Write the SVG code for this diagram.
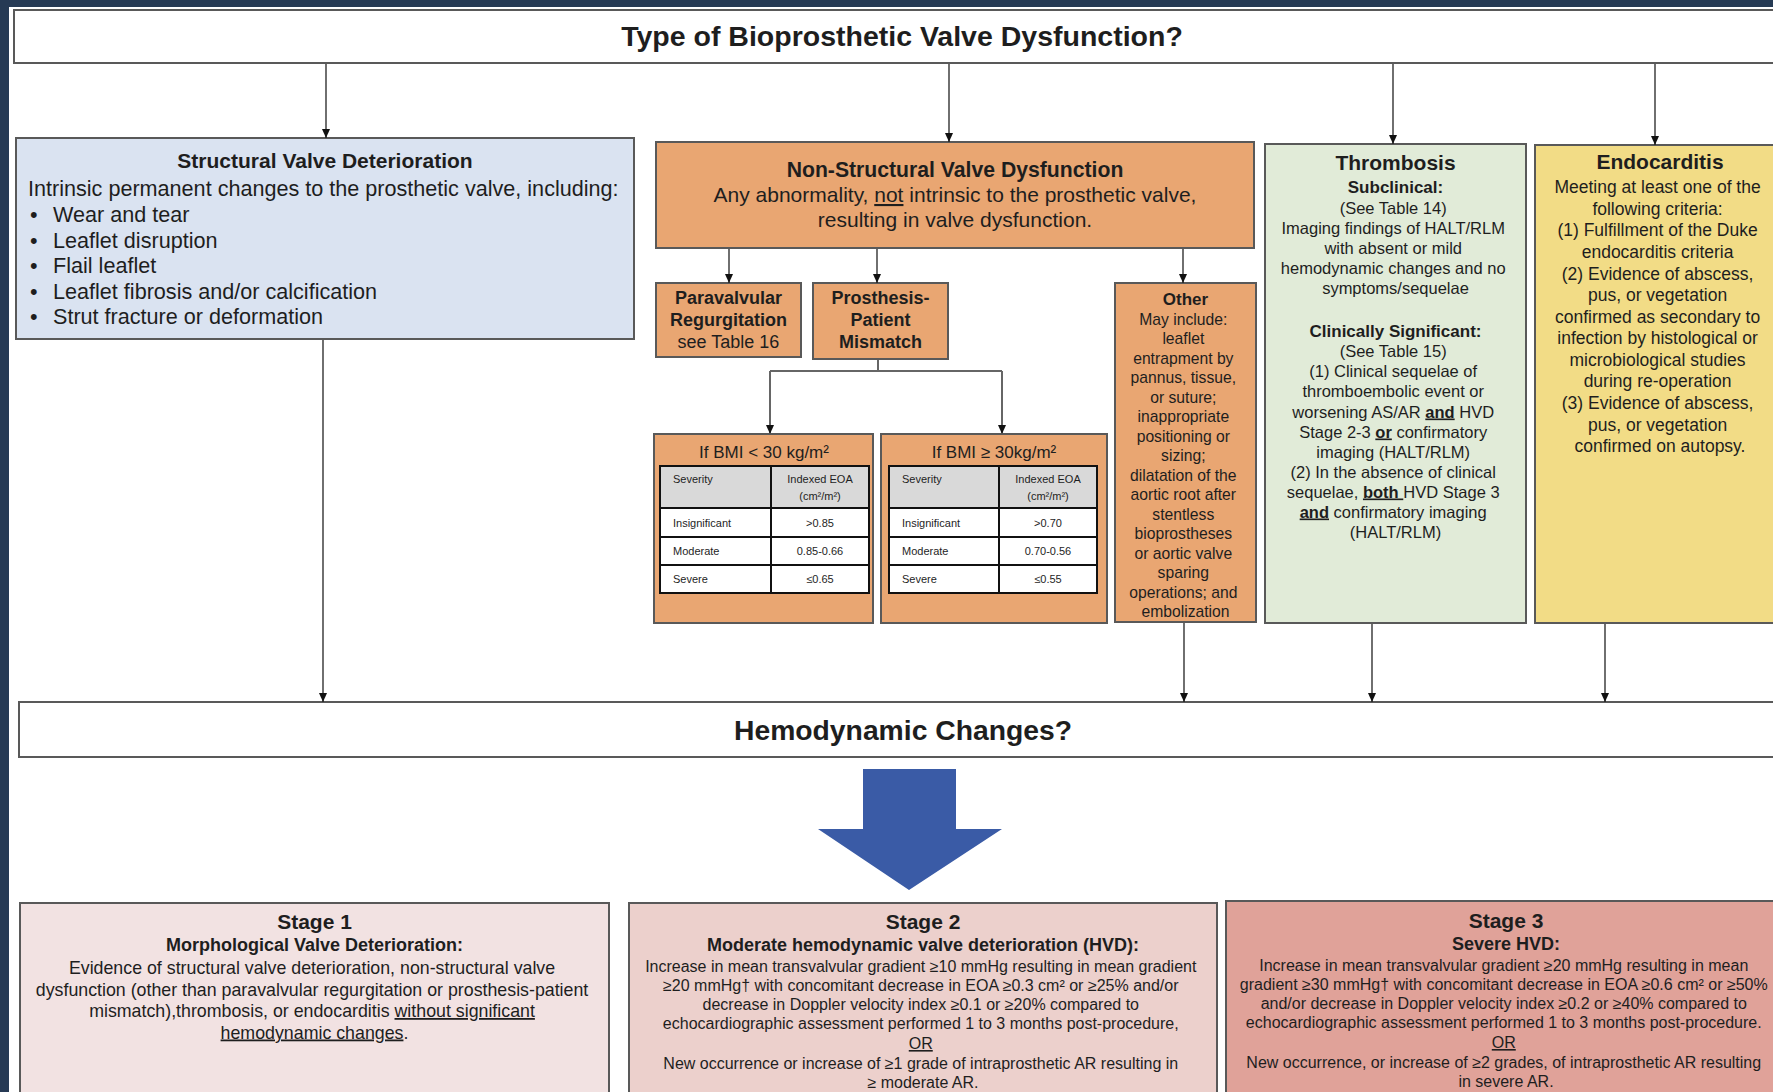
<svg xmlns="http://www.w3.org/2000/svg" width="1773" height="1092" viewBox="0 0 1773 1092">
<defs>
<style>
text{font-family:"Liberation Sans",Arial,Helvetica,sans-serif;fill:#1e1e1e}
.b{font-weight:bold}
.m{text-anchor:middle}
.u{text-decoration:underline}
.box{stroke:#595959;stroke-width:2}
.conn line,.conn path{stroke:#222;stroke-width:1.3;fill:none}
.conn .g{stroke:#666;stroke-width:2}
.org{fill:#e9a672}
.tb{fill:#fff;stroke:#111;stroke-width:2}
.th{fill:#d9d9d9;stroke:#111;stroke-width:2}
.t11{font-size:11px}
</style>
<marker id="ah" markerWidth="10" markerHeight="10" refX="9" refY="5" orient="auto" markerUnits="userSpaceOnUse"><path d="M0,1 L9,5 L0,9 z" fill="#111"/></marker>
</defs>
<rect x="0" y="0" width="1773" height="1092" fill="#263a54"/>
<rect x="9" y="7" width="1764" height="1085" fill="#ffffff"/>

<g id="top">
<rect class="box" x="14" y="10" width="1780" height="53" fill="#fff"/>
<text class="b m" x="902" y="46" font-size="28.5">Type of Bioprosthetic  Valve Dysfunction?</text>
</g>

<g id="svd">
<rect class="box" x="16" y="138" width="618" height="201" fill="#dae3f1"/>
<text class="b m" x="325" y="168" font-size="21">Structural Valve Deterioration</text>
<text x="28" y="196" font-size="21.6">Intrinsic permanent changes to the prosthetic valve,  including:</text>
<g font-size="21.6">
<text x="30" y="222">•</text><text x="53" y="222">Wear and tear</text>
<text x="30" y="247.5">•</text><text x="53" y="247.5">Leaflet disruption</text>
<text x="30" y="273">•</text><text x="53" y="273">Flail leaflet</text>
<text x="30" y="298.5">•</text><text x="53" y="298.5">Leaflet fibrosis and/or calcification</text>
<text x="30" y="324">•</text><text x="53" y="324">Strut fracture or deformation</text>
</g>
</g>

<g id="nsvd">
<rect class="box org" x="656" y="142" width="598" height="106"/>
<text class="b m" x="955" y="177" font-size="21.2">Non-Structural Valve Dysfunction</text>
<text class="m" x="955" y="202" font-size="21">Any abnormality, <tspan class="u">not</tspan> intrinsic to the prosthetic valve,</text>
<text class="m" x="955" y="227" font-size="21">resulting in valve dysfunction.</text>
</g>

<g id="pvr">
<rect class="box org" x="656" y="283" width="145" height="74"/>
<text class="m" x="728.5" font-size="18"><tspan class="b" x="728.5" y="304">Paravalvular</tspan><tspan class="b" x="728.5" y="326">Regurgitation</tspan><tspan x="728.5" y="348">see Table 16</tspan></text>
</g>

<g id="ppm">
<rect class="box org" x="813" y="283" width="135" height="76"/>
<text class="b m" x="880.5" font-size="18"><tspan x="880.5" y="304">Prosthesis-</tspan><tspan x="880.5" y="326">Patient</tspan><tspan x="880.5" y="348">Mismatch</tspan></text>
</g>

<g id="other">
<rect class="box org" x="1115" y="283" width="141" height="339"/>
<text class="b m" x="1185.5" y="305" font-size="17">Other</text>
<text class="m" font-size="15.7">
<tspan x="1185.5" y="324.5">May include:</tspan>
<tspan x="1185.5" y="344">leaflet</tspan>
<tspan x="1185.5" y="363.5">entrapment by</tspan>
<tspan x="1185.5" y="383">pannus, tissue,</tspan>
<tspan x="1185.5" y="402.5">or suture;</tspan>
<tspan x="1185.5" y="422">inappropriate</tspan>
<tspan x="1185.5" y="441.5">positioning or</tspan>
<tspan x="1185.5" y="461">sizing;</tspan>
<tspan x="1185.5" y="480.5">dilatation of the</tspan>
<tspan x="1185.5" y="500">aortic root after</tspan>
<tspan x="1185.5" y="519.5">stentless</tspan>
<tspan x="1185.5" y="539">bioprostheses</tspan>
<tspan x="1185.5" y="558.5">or aortic valve</tspan>
<tspan x="1185.5" y="578">sparing</tspan>
<tspan x="1185.5" y="597.5">operations; and</tspan>
<tspan x="1185.5" y="617">embolization</tspan>
</text>
</g>

<g id="bmi-low">
<rect class="box org" x="654" y="434" width="219" height="189"/>
<text class="m" x="764" y="458" font-size="17">If BMI &lt; 30 kg/m²</text>
<rect class="th" x="660" y="466" width="209" height="42"/>
<rect class="tb" x="660" y="508" width="209" height="85"/>
<path d="M660,537 H869 M660,565 H869 M771,466 V593" stroke="#111" stroke-width="2"/>
<g class="t11">
<text x="673" y="483">Severity</text>
<text class="m" x="820" y="483">Indexed EOA</text>
<text class="m" x="820" y="500">(cm²/m²)</text>
<text x="673" y="527">Insignificant</text><text class="m" x="820" y="527">&gt;0.85</text>
<text x="673" y="555">Moderate</text><text class="m" x="820" y="555">0.85-0.66</text>
<text x="673" y="583">Severe</text><text class="m" x="820" y="583">≤0.65</text>
</g>
</g>

<g id="bmi-high">
<rect class="box org" x="881" y="434" width="226" height="189"/>
<text class="m" x="994" y="458" font-size="17">If BMI ≥ 30kg/m²</text>
<rect class="th" x="889" y="466" width="208" height="42"/>
<rect class="tb" x="889" y="508" width="208" height="85"/>
<path d="M889,537 H1097 M889,565 H1097 M999,466 V593" stroke="#111" stroke-width="2"/>
<g class="t11">
<text x="902" y="483">Severity</text>
<text class="m" x="1048" y="483">Indexed EOA</text>
<text class="m" x="1048" y="500">(cm²/m²)</text>
<text x="902" y="527">Insignificant</text><text class="m" x="1048" y="527">&gt;0.70</text>
<text x="902" y="555">Moderate</text><text class="m" x="1048" y="555">0.70-0.56</text>
<text x="902" y="583">Severe</text><text class="m" x="1048" y="583">≤0.55</text>
</g>
</g>

<g id="thrombosis">
<rect class="box" x="1265" y="144" width="261" height="479" fill="#e1ebd8" stroke="#808080"/>
<text class="b m" x="1395.5" y="170" font-size="21">Thrombosis</text>
<text class="b m" x="1395.5" y="193" font-size="17">Subclinical:</text>
<text class="m" font-size="16.5">
<tspan x="1395.5" y="214">(See Table 14)</tspan>
<tspan x="1395.5" y="234">Imaging findings of HALT/RLM</tspan>
<tspan x="1395.5" y="254">with absent or mild</tspan>
<tspan x="1395.5" y="274">hemodynamic changes and no</tspan>
<tspan x="1395.5" y="294">symptoms/sequelae</tspan>
</text>
<text class="b m" x="1395.5" y="337" font-size="17">Clinically  Significant:</text>
<text class="m" font-size="16.5">
<tspan x="1395.5" y="357">(See Table 15)</tspan>
<tspan x="1395.5" y="377">(1) Clinical  sequelae of</tspan>
<tspan x="1395.5" y="397">thromboembolic event or</tspan>
<tspan x="1395.5" y="417.5">worsening AS/AR <tspan class="b u">and</tspan> HVD</tspan>
<tspan x="1395.5" y="437.5">Stage 2-3 <tspan class="b u">or</tspan> confirmatory</tspan>
<tspan x="1395.5" y="457.5">imaging (HALT/RLM)</tspan>
<tspan x="1395.5" y="477.5">(2) In the absence of clinical</tspan>
<tspan x="1395.5" y="497.5">sequelae, <tspan class="b u">both </tspan>HVD Stage 3</tspan>
<tspan x="1395.5" y="517.5"><tspan class="b u">and</tspan> confirmatory imaging</tspan>
<tspan x="1395.5" y="537.5">(HALT/RLM)</tspan>
</text>
</g>

<g id="endocarditis">
<rect class="box" x="1535" y="145" width="260" height="478" fill="#f2dc86" stroke="#808080"/>
<text class="b m" x="1660" y="169" font-size="21">Endocarditis</text>
<text class="m" font-size="17.5">
<tspan x="1660" y="193">Meeting at least one of the</tspan>
<tspan x="1660" y="214.5">following criteria:</tspan>
<tspan x="1660" y="236">(1) Fulfillment  of the Duke</tspan>
<tspan x="1660" y="258">endocarditis criteria</tspan>
<tspan x="1660" y="279.5">(2) Evidence of abscess,</tspan>
<tspan x="1660" y="301">pus, or vegetation</tspan>
<tspan x="1660" y="322.5">confirmed as secondary to</tspan>
<tspan x="1660" y="344">infection by histological or</tspan>
<tspan x="1660" y="365.5">microbiological studies</tspan>
<tspan x="1660" y="387">during re-operation</tspan>
<tspan x="1660" y="409">(3) Evidence of abscess,</tspan>
<tspan x="1660" y="430.5">pus, or vegetation</tspan>
<tspan x="1660" y="452">confirmed on autopsy.</tspan>
</text>
</g>

<g id="hemodynamic">
<rect class="box" x="19" y="702" width="1780" height="55" fill="#fff"/>
<text class="b m" x="903" y="740" font-size="28.3">Hemodynamic Changes?</text>
</g>

<g id="big-arrow">
<polygon points="863,769 956,769 956,829 1002,829 909,890 818,829 863,829" fill="#3a5ba6"/>
</g>

<g id="stage1">
<rect class="box" x="20" y="903" width="589" height="200" fill="#f2e2e2" stroke="#8a8a8a"/>
<text class="b m" x="314.5" y="929" font-size="21">Stage 1</text>
<text class="b m" x="314.5" y="951" font-size="18">Morphological  Valve Deterioration:</text>
<text class="m" font-size="17.8">
<tspan x="314.5" y="974">Evidence of structural valve deterioration, non-structural valve</tspan>
<tspan x="314.5" y="995.5">dysfunction (other than paravalvular regurgitation or prosthesis-patient</tspan>
<tspan x="314.5" y="1017">mismatch),thrombosis, or endocarditis <tspan class="u">without significant</tspan></tspan>
<tspan x="314.5" y="1038.5"><tspan class="u">hemodynamic  changes</tspan>.</tspan>
</text>
</g>

<g id="stage2">
<rect class="box" x="629" y="903" width="588" height="200" fill="#ecd0cc" stroke="#8a8a8a"/>
<text class="b m" x="923" y="929" font-size="21">Stage 2</text>
<text class="b m" x="923" y="951" font-size="18">Moderate hemodynamic valve deterioration (HVD):</text>
<text class="m" font-size="16">
<tspan x="923" y="972">Increase in mean transvalvular  gradient ≥10 mmHg resulting in mean gradient</tspan>
<tspan x="923" y="991">≥20 mmHg† with concomitant decrease in EOA ≥0.3 cm² or ≥25% and/or</tspan>
<tspan x="923" y="1010">decrease in Doppler velocity index ≥0.1 or ≥20% compared to</tspan>
<tspan x="923" y="1029">echocardiographic assessment performed 1 to 3 months post-procedure,</tspan>
<tspan x="923" y="1049" class="u">OR</tspan>
<tspan x="923" y="1069">New occurrence or increase of ≥1 grade of intraprosthetic AR resulting in</tspan>
<tspan x="923" y="1088">≥ moderate AR.</tspan>
</text>
</g>

<g id="stage3">
<rect class="box" x="1226" y="901" width="570" height="200" fill="#e0a299" stroke="#8a8a8a"/>
<text class="b m" x="1506" y="928" font-size="21">Stage 3</text>
<text class="b m" x="1506" y="950" font-size="18">Severe HVD:</text>
<text class="m" font-size="16">
<tspan x="1506" y="971">Increase in mean transvalvular  gradient ≥20 mmHg resulting in mean</tspan>
<tspan x="1506" y="990">gradient ≥30 mmHg† with concomitant decrease in EOA ≥0.6 cm² or ≥50%</tspan>
<tspan x="1506" y="1009">and/or decrease in Doppler velocity index ≥0.2 or ≥40% compared to</tspan>
<tspan x="1506" y="1028">echocardiographic assessment performed 1 to 3 months post-procedure.</tspan>
<tspan x="1506" y="1048" class="u">OR</tspan>
<tspan x="1506" y="1068">New occurrence, or increase of ≥2 grades, of intraprosthetic AR resulting</tspan>
<tspan x="1506" y="1087">in severe AR.</tspan>
</text>
</g>

<g id="connectors" class="conn">
<line x1="326" y1="64" x2="326" y2="138" marker-end="url(#ah)"/>
<line x1="949" y1="64" x2="949" y2="142" marker-end="url(#ah)"/>
<line x1="1393" y1="64" x2="1393" y2="144" marker-end="url(#ah)"/>
<line x1="1655" y1="64" x2="1655" y2="145" marker-end="url(#ah)"/>
<line x1="729" y1="249" x2="729" y2="283" marker-end="url(#ah)"/>
<line x1="877" y1="249" x2="877" y2="283" marker-end="url(#ah)"/>
<line x1="1183" y1="249" x2="1183" y2="283" marker-end="url(#ah)"/>
<path class="g" d="M878,360 V371 M770,371 H1002"/>
<line class="g" x1="770" y1="371" x2="770" y2="434" marker-end="url(#ah)"/>
<line class="g" x1="1002" y1="371" x2="1002" y2="434" marker-end="url(#ah)"/>
<line x1="323" y1="340" x2="323" y2="702" marker-end="url(#ah)"/>
<line x1="1184" y1="623" x2="1184" y2="702" marker-end="url(#ah)"/>
<line x1="1372" y1="624" x2="1372" y2="702" marker-end="url(#ah)"/>
<line x1="1605" y1="624" x2="1605" y2="702" marker-end="url(#ah)"/>
</g>
</svg>
